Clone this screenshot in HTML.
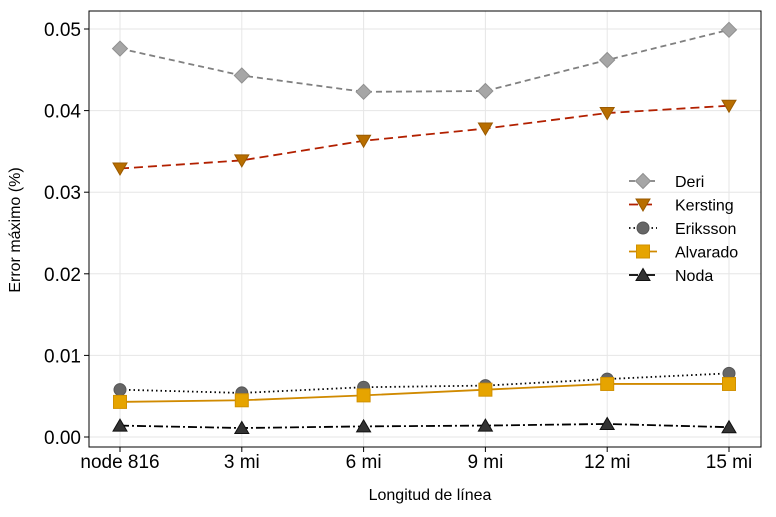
<!DOCTYPE html>
<html><head><meta charset="utf-8"><style>
body{margin:0;background:#fff;}
text{font-family:"Liberation Sans","DejaVu Sans",sans-serif;}
</style></head><body>
<svg id="chart" width="776" height="512" xmlns="http://www.w3.org/2000/svg"></svg>
<script>
const categories=["node 816","3 mi","6 mi","9 mi","12 mi","15 mi"];
const yTicks=[0,0.01,0.02,0.03,0.04,0.05];
const yTickLabels=["0.00","0.01","0.02","0.03","0.04","0.05"];
const deri=[0.0476,0.0443,0.0423,0.0424,0.0462,0.0499];
const kersting=[0.0329,0.0339,0.0363,0.0378,0.0397,0.0406];
const eriksson=[0.0058,0.0054,0.0061,0.0063,0.0071,0.0078];
const alvarado=[0.0043,0.0045,0.0051,0.0058,0.0065,0.0065];
const noda=[0.0014,0.0011,0.0013,0.0014,0.0016,0.0012];
const NS="http://www.w3.org/2000/svg";
const svg=document.getElementById('chart');
const L=89,R=761,T=11,B=447;
const x=i=>120+i*121.8;
const y=v=>437-v*8160;
function mk(t,a,p){const e=document.createElementNS(NS,t);for(const k in a)e.setAttribute(k,a[k]);(p||svg).appendChild(e);return e;}
yTicks.forEach((v,i)=>{
 const g=mk('line',{x1:L,x2:R,y1:y(v),y2:y(v),stroke:'#e6e6e6','stroke-width':1});
 
 
 const tk=mk('line',{x1:L-5,x2:L,y1:y(v),y2:y(v),stroke:'#000'});
 
 
 const t=mk('text',{x:L-8,y:y(v)+7,'text-anchor':'end','font-size':19});
 t.textContent=yTickLabels[i];
 
 
});
categories.forEach((c,i)=>{
 const g=mk('line',{x1:x(i),x2:x(i),y1:T,y2:B,stroke:'#e6e6e6'});
 
 
 const tk=mk('line',{x1:x(i),x2:x(i),y1:B,y2:B+5,stroke:'#000'});
 
 
 const t=mk('text',{x:x(i),y:B+21,'text-anchor':'middle','font-size':19});
 t.textContent=c;
 
 
});
const fr=mk('rect',{x:L,y:T,width:R-L,height:B-T,fill:'none',stroke:'#000','stroke-width':1});


const xt=mk('text',{x:430,y:500,'text-anchor':'middle','font-size':16});
xt.textContent='Longitud de línea';


const yt=mk('text',{x:20,y:230,'text-anchor':'middle','font-size':16,transform:'rotate(-90 20 230)'});
yt.textContent='Error máximo (%)';


function marker(shape,cx,cy,fill,stroke,p){
 if(shape==='diamond')return mk('polygon',{points:`${cx},${cy-7.5} ${cx+7.5},${cy} ${cx},${cy+7.5} ${cx-7.5},${cy}`,fill,stroke},p);
 if(shape==='vtri')return mk('polygon',{points:`${cx-7},${cy-5.5} ${cx+7},${cy-5.5} ${cx},${cy+6.5}`,fill,stroke},p);
 if(shape==='circle')return mk('circle',{cx,cy,r:6,fill,stroke},p);
 if(shape==='square')return mk('rect',{x:cx-6.5,y:cy-6.5,width:13,height:13,fill,stroke},p);
 return mk('polygon',{points:`${cx-7},${cy+5.5} ${cx+7},${cy+5.5} ${cx},${cy-6.5}`,fill,stroke},p);
}
const series=[
 {n:'deri',label:'Deri',d:deri,c:'#808080',dash:'6,4',m:'diamond',f:'#a6a6a6',s:'#909090'},
 {n:'kersting',label:'Kersting',d:kersting,c:'#b22000',dash:'9,5',m:'vtri',f:'#b86e00',s:'#9a5a00'},
 {n:'eriksson',label:'Eriksson',d:eriksson,c:'#000',dash:'1.5,3',m:'circle',f:'#666',s:'#555'},
 {n:'alvarado',label:'Alvarado',d:alvarado,c:'#d08a00',dash:'',m:'square',f:'#e6a400',s:'#d09000'},
 {n:'noda',label:'Noda',d:noda,c:'#000',dash:'9,3,2,3',m:'tri',f:'#333',s:'#111'}
];
series.forEach((s,k)=>{
 const g=mk('g',{});
 
 
 const pl=mk('polyline',{points:s.d.map((v,i)=>x(i)+','+y(v)).join(' '),fill:'none',stroke:s.c,'stroke-width':1.8,'stroke-dasharray':s.dash},g);
 
 
 s.d.forEach((v,i)=>{
  const m=marker(s.m,x(i),y(v),s.f,s.s,g);
  
  
 });
 const ly=181+k*23.5;
 const lg=mk('g',{});
 
 
 mk('line',{x1:629,x2:657,y1:ly,y2:ly,stroke:s.c,'stroke-width':1.8,'stroke-dasharray':s.dash},lg);
 marker(s.m,643,ly,s.f,s.s,lg);
 const t=mk('text',{x:675,y:ly+6,'font-size':16},lg);
 t.textContent=s.label;
});
</script>
</body></html>
